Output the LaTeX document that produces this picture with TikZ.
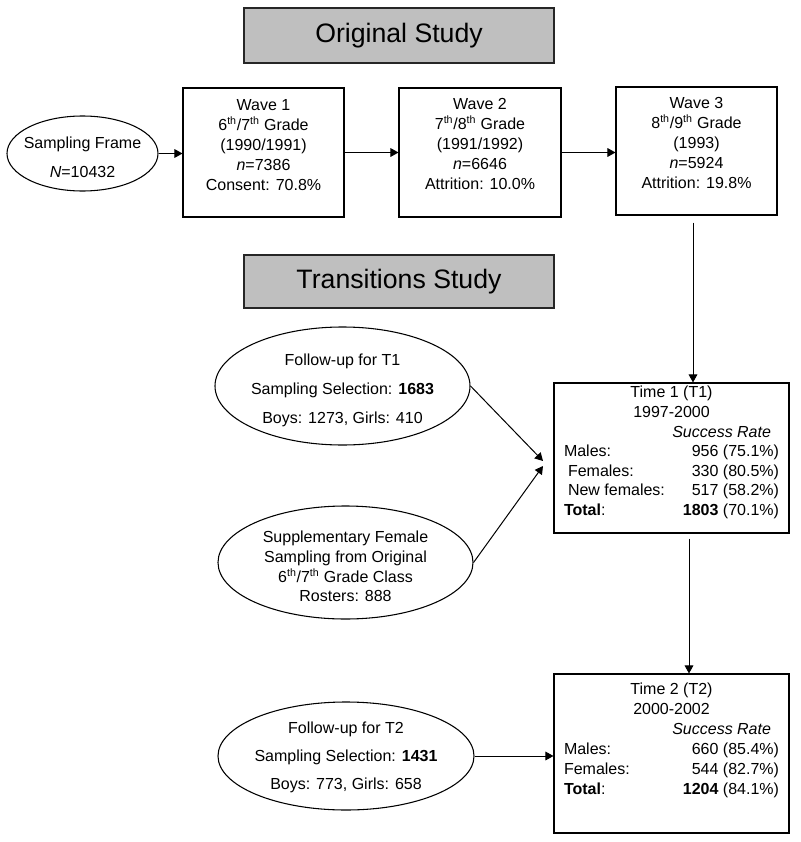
\documentclass[tikz,border=0pt]{standalone}
\usepackage{fontspec}
\setmainfont{Liberation Sans}
\usetikzlibrary{arrows.meta,shapes.geometric,calc}
\begin{document}
\begin{tikzpicture}[x=0.75pt,y=-0.75pt,
  box/.style={draw=black, line width=0.8pt, inner sep=0pt},
  header/.style={draw=black!85, fill=black!25, line width=0.9pt, inner sep=0pt, font=\fontsize{20}{24}\selectfont},
  ell/.style={ellipse, draw=black, line width=0.8pt, inner sep=0pt},
  txt/.style={inner sep=0pt, align=center, font=\fontsize{12}{15}\selectfont},
  arr/.style={-{Triangle[length=6pt,width=6.5pt]}, line width=0.75pt}
]
\useasboundingbox (0,0) rectangle (800,842);

% headers
\node[header, minimum width=232.5pt, minimum height=41.25pt] (orig) at (399,35.5) {Original Study};
\node[header, minimum width=232.5pt, minimum height=39.75pt] (trans) at (399,281.5) {Transitions Study};

% original study
\node[ell, minimum width=113.25pt, minimum height=56.25pt] (sf) at (82.5,153.5) {};
\node[txt, font=\fontsize{12}{21.75}\selectfont] (sft) at (82.5,157.5) {Sampling Frame\\\textit{N}=10432};

\node[box, minimum width=120.75pt, minimum height=96.75pt] (w1) at (263.5,152.5) {};
\node[txt] (w1t) at (263.5,145) {Wave 1\\6\textsuperscript{th}/7\textsuperscript{th} Grade\\(1990/1991)\\\textit{n}=7386\\Consent: 70.8\%};

\node[box, minimum width=121.5pt, minimum height=96.75pt] (w2) at (480,152.5) {};
\node[txt] (w2t) at (480,144) {Wave 2\\7\textsuperscript{th}/8\textsuperscript{th} Grade\\(1991/1992)\\\textit{n}=6646\\Attrition: 10.0\%};

\node[box, minimum width=120.75pt, minimum height=96pt] (w3) at (696.5,151) {};
\node[txt] (w3t) at (696.5,143) {Wave 3\\8\textsuperscript{th}/9\textsuperscript{th} Grade\\(1993)\\\textit{n}=5924\\Attrition: 19.8\%};

% transitions study
\node[ell, minimum width=191.25pt, minimum height=88.5pt] (f1) at (342.5,386) {};
\node[txt, font=\fontsize{12}{21.75}\selectfont] (f1t) at (342.5,390) {Follow-up for T1\\Sampling Selection: \textbf{1683}\\Boys: 1273, Girls: 410};

\node[ell, minimum width=191.25pt, minimum height=84.75pt] (supp) at (345.5,562.5) {};
\node[txt, font=\fontsize{12}{14.8}\selectfont] (suppt) at (345.5,566.5) {Supplementary Female\\Sampling from Original\\6\textsuperscript{th}/7\textsuperscript{th} Grade Class\\Rosters: 888};

\node[ell, minimum width=192pt, minimum height=81pt] (f2) at (346,756) {};
\node[txt, font=\fontsize{12}{21}\selectfont] (f2t) at (346,757) {Follow-up for T2\\Sampling Selection: \textbf{1431}\\Boys: 773, Girls: 658};

\node[box, minimum width=176.25pt, minimum height=112.5pt] (t1) at (671.5,458) {};
\node[inner sep=0pt, anchor=north, font=\fontsize{12}{14.7}\selectfont] (t1t) at (671.5,384) {%
\begin{tabular*}{161.25pt}{@{}l@{\extracolsep{\fill}}r@{}}
\multicolumn{2}{c}{Time 1 (T1)}\\
\multicolumn{2}{c}{1997-2000}\\
\multicolumn{2}{r}{\textit{Success Rate}}\\
Males: & 956 (75.1\%)\\
\hspace{3pt}Females: & 330 (80.5\%)\\
\hspace{3pt}New females: & 517 (58.2\%)\\
\textbf{Total}: & \textbf{1803} (70.1\%)
\end{tabular*}};

\node[box, minimum width=176.25pt, minimum height=119.25pt] (t2) at (671.5,753.5) {};
\node[inner sep=0pt, anchor=north, font=\fontsize{12}{15}\selectfont] (t2t) at (671.5,680) {%
\begin{tabular*}{161.25pt}{@{}l@{\extracolsep{\fill}}r@{}}
\multicolumn{2}{c}{Time 2 (T2)}\\
\multicolumn{2}{c}{2000-2002}\\
\multicolumn{2}{r}{\textit{Success Rate}}\\
Males: & 660 (85.4\%)\\
Females: & 544 (82.7\%)\\
\textbf{Total}: & \textbf{1204} (84.1\%)
\end{tabular*}};

% connectors
\coordinate (m1) at (543,461);
\coordinate (m2) at (543,466);
\draw[arr] (sf.east) -- (sf.east -| w1.west);
\draw[arr] (w1.east) -- (w1.east -| w2.west);
\draw[arr] (w2.east) -- (w2.east -| w3.west);
\draw[arr] ($(w3.south)+(-3.5,7)$) -- ($(t1.north)+(21.5,0)$);
\draw[arr] ($(t1.south)+(17.5,5)$) -- ($(t2.north)+(17.5,0)$);
\draw[arr] (f1.east) -- (m1);
\draw[arr] (supp.east) -- (m2);
\draw[arr] (f2.east) -- (f2.east -| t2.west);
\end{tikzpicture}
\end{document}
